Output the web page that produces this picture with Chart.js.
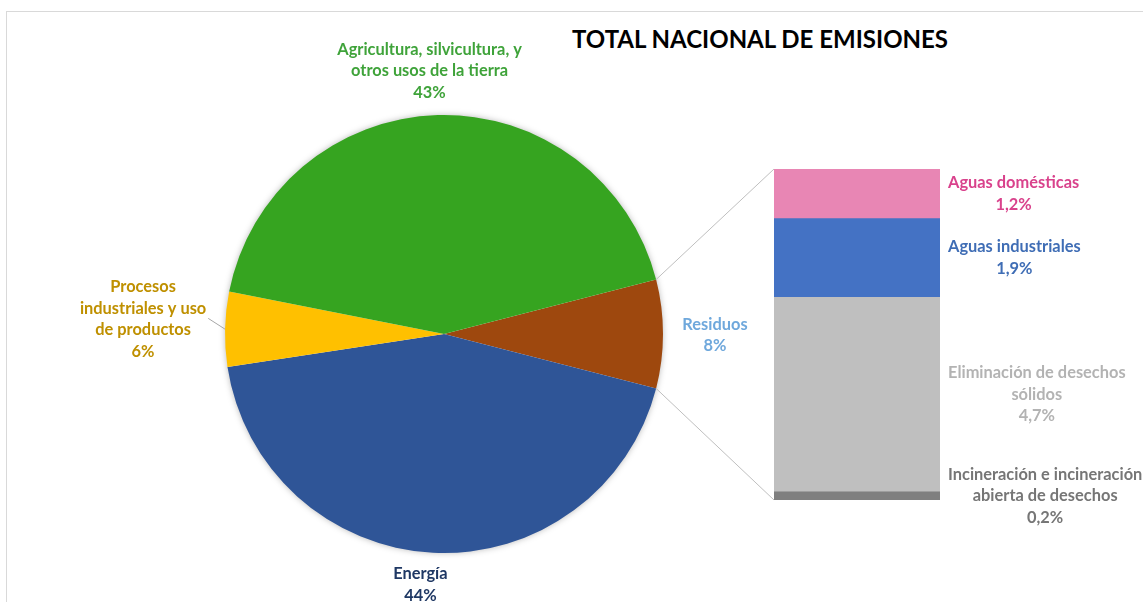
<!DOCTYPE html>
<html>
<head>
<meta charset="utf-8">
<script src="https://cdn.jsdelivr.net/npm/chart.js@4"></script>
<style>
    html, body { margin: 0; padding: 0; background: #fff; overflow: hidden; }
    #wrap { position: relative; width: 1143px; height: 602px; }
    #frame { position: absolute; left: 6px; top: 11px; width: 1200px; height: 700px; border: 1px solid #d9d9d9; }
    #title { position: absolute; left: 560px; width: 400px; top: 24px; text-align: center;
             font-family: Lato, sans-serif; font-weight: bold; font-size: 24px; color: #000; }
    canvas { position: absolute; left: 0; top: 0; }
</style>
</head>
<body>
<div id="wrap">
    <div id="frame"></div>
    <div id="title">TOTAL NACIONAL DE EMISIONES</div>
    <canvas id="pie" width="1143" height="602"></canvas>
    <canvas id="bar" width="1143" height="602"></canvas>
</div>
<script>
// Sectors of the main pie (Residuos first so it sits at 3 o'clock)
const sectores = [
    ['Residuos'],
    ['Energía'],
    ['Procesos', 'industriales y uso', 'de productos'],
    ['Agricultura, silvicultura, y', 'otros usos de la tierra']
];
const sectorValores = [8.0, 43.6, 5.5, 42.9];
const sectorColores = ['#9e480e', '#2f5597', '#ffc000', '#36a420'];
const sectorTextos = ['#6fa8dc', '#1f3864', '#bf9000', '#3fa33a'];

// Breakdown of Residuos (bottom to top)
const residuos = [
    ['Incineración e incineración', 'abierta de desechos'],
    ['Eliminación de desechos', 'sólidos'],
    ['Aguas industriales'],
    ['Aguas domésticas']
];
const residuosValores = [0.2, 4.7, 1.9, 1.2];
const residuosColores = ['#7f7f7f', '#bfbfbf', '#4472c4', '#e886b4'];
const residuosTextos = ['#767676', '#b3b3b3', '#3f6db5', '#d9428c'];

const FONT = 'bold 16.4px Lato, sans-serif';
const LINE_H = 21.5;

const totalSectores = sectorValores.reduce((a, b) => a + b, 0);
const totalResiduos = residuosValores.reduce((a, b) => a + b, 0);

// label offsets: radial distance beyond the pie edge, plus small nudges
const pieLabelPos = [
    { d: 52, dx: 0, dy: 1 },
    { d: 32, dx: -11, dy: 0 },
    { d: 82, dx: 0, dy: -8 },
    { d: 44, dx: -7, dy: 0 }
];

function drawBlock(ctx, lines, cx, cy, color) {
    ctx.fillStyle = color;
    ctx.textAlign = 'center';
    ctx.textBaseline = 'middle';
    const top = cy - (lines.length - 1) * LINE_H / 2;
    lines.forEach((t, i) => ctx.fillText(t, cx, top + i * LINE_H));
}

// soft shadow behind the pie
const pieShadow = {
    id: 'pieShadow',
    beforeDatasetsDraw(chart) {
        const arc = chart.getDatasetMeta(0).data[0];
        const ctx = chart.ctx;
        ctx.save();
        ctx.shadowColor = 'rgba(0,0,0,0.35)';
        ctx.shadowBlur = 7;
        ctx.fillStyle = '#ffffff';
        ctx.beginPath();
        ctx.arc(arc.x, arc.y, arc.outerRadius - 1, 0, Math.PI * 2);
        ctx.fill();
        ctx.restore();
    }
};

const pieChart = new Chart(document.getElementById('pie'), {
    type: 'pie',
    data: {
        labels: sectores,
        datasets: [{
            data: sectorValores,
            backgroundColor: sectorColores,
            borderWidth: 0
        }]
    },
    options: {
        responsive: false,
        animation: false,
        rotation: 90 - (sectorValores[0] / totalSectores) * 180,
        layout: { padding: { left: 225, right: 480, top: 115, bottom: 49 } },
        plugins: { legend: { display: false }, tooltip: { enabled: false } }
    },
    plugins: [pieShadow]
});

// connectors between pie and bar, plus all data labels
const labelsPlugin = {
    id: 'labelsPlugin',
    afterDraw(chart) {
        const ctx = chart.ctx;
        const arcs = pieChart.getDatasetMeta(0).data;
        const res = arcs[0];
        const bars = residuos.map((_, i) => chart.getDatasetMeta(i).data[0]);
        const topBar = bars[bars.length - 1];
        const botBar = bars[0];
        const barLeft = topBar.x - topBar.width / 2;
        const barRight = topBar.x + topBar.width / 2;

        // connector lines
        ctx.save();
        ctx.strokeStyle = '#bfbfbf';
        ctx.lineWidth = 1;
        ctx.beginPath();
        ctx.moveTo(res.x + Math.cos(res.startAngle) * res.outerRadius, res.y + Math.sin(res.startAngle) * res.outerRadius);
        ctx.lineTo(barLeft, topBar.y);
        ctx.moveTo(res.x + Math.cos(res.endAngle) * res.outerRadius, res.y + Math.sin(res.endAngle) * res.outerRadius);
        ctx.lineTo(barLeft, botBar.base);
        ctx.stroke();
        ctx.restore();

        ctx.save();
        ctx.font = FONT;

        // pie labels
        arcs.forEach((arc, i) => {
            const mid = (arc.startAngle + arc.endAngle) / 2;
            const p = pieLabelPos[i];
            const r = arc.outerRadius + p.d;
            const cx = arc.x + Math.cos(mid) * r + p.dx;
            const cy = arc.y + Math.sin(mid) * r + p.dy;
            const lines = sectores[i].concat([Math.round(sectorValores[i]) + '%']);
            drawBlock(ctx, lines, cx, cy, sectorTextos[i]);

            // leader line for the small slice
            if (i === 2) {
                const w = Math.max(...lines.map(t => ctx.measureText(t).width));
                ctx.strokeStyle = '#a6a6a6';
                ctx.lineWidth = 1;
                ctx.beginPath();
                ctx.moveTo(cx + w / 2 + 2, cy - 1);
                ctx.lineTo(arc.x + Math.cos(mid) * arc.outerRadius, arc.y + Math.sin(mid) * arc.outerRadius);
                ctx.stroke();
            }
        });

        // bar labels: block starts just right of the bar, lines centred in it
        bars.forEach((bar, i) => {
            const lines = residuos[i].concat([residuosValores[i].toFixed(1).replace('.', ',') + '%']);
            const w = Math.max(...lines.map(t => ctx.measureText(t).width));
            const cx = barRight + 8 + w / 2;
            const cy = (bar.y + bar.base) / 2;
            drawBlock(ctx, lines, cx, cy, residuosTextos[i]);
        });
        ctx.restore();
    }
};

const barChart = new Chart(document.getElementById('bar'), {
    type: 'bar',
    data: {
        labels: ['Residuos'],
        datasets: residuos.map((name, i) => ({
            label: name.join(' '),
            data: [residuosValores[i]],
            backgroundColor: residuosColores[i],
            borderWidth: 0,
            categoryPercentage: 1,
            barPercentage: 1
        }))
    },
    options: {
        responsive: false,
        animation: false,
        layout: { padding: { left: 774, right: 203, top: 169, bottom: 102 } },
        scales: {
            x: { stacked: true, display: false },
            y: { stacked: true, display: false, min: 0, max: totalResiduos }
        },
        plugins: { legend: { display: false }, tooltip: { enabled: false } }
    },
    plugins: [labelsPlugin]
});
</script>
</body>
</html>
